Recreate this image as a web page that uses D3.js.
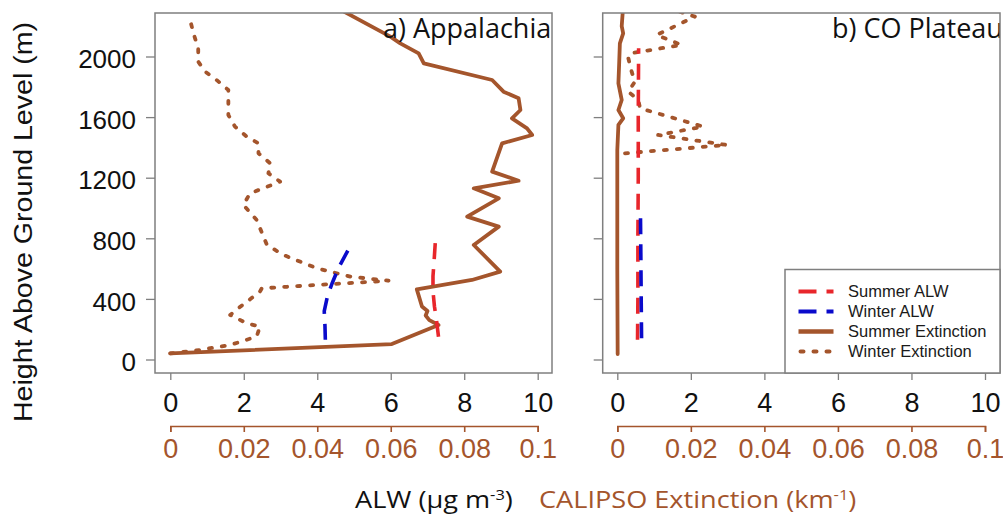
<!DOCTYPE html>
<html>
<head>
<meta charset="utf-8">
<script src="https://cdn.jsdelivr.net/npm/d3@7"></script>
<style>
  html, body { margin: 0; padding: 0; background: #fff; }
  svg { display: block; }
</style>
</head>
<body>
<svg id="chart" width="1003" height="514"></svg>
<script>
// ---- Data: vertical profiles (height above ground in m, value) ----
// ALW in µg m-3, CALIPSO extinction in km-1

const heightTicks = [0, 400, 800, 1200, 1600, 2000];
const alwTicks = [0, 2, 4, 6, 8, 10];
const extTicks = [0, 0.02, 0.04, 0.06, 0.08, 0.1];
const panelTitles = ["a) Appalachia", "b) CO Plateau"];
const seriesNames = ["Summer ALW", "Winter ALW", "Summer Extinction", "Winter Extinction"];

// a) Appalachia
const appSummerAlwH = [150, 250, 350, 450, 550, 650, 800];
const appSummerAlwV = [7.30, 7.25, 7.19, 7.15, 7.15, 7.18, 7.22];
const appWinterAlwH = [130, 220, 320, 420, 500, 600, 750];
const appWinterAlwV = [4.22, 4.21, 4.19, 4.28, 4.40, 4.57, 4.90];
const appSummerExtH = [40, 102, 228, 260, 290, 320, 350, 463, 525, 580, 756, 877, 943, 1064, 1130, 1180,
  1240, 1427, 1482, 1526, 1592, 1647, 1724, 1768, 1845, 1955, 2021, 2087, 2131, 2300];
const appSummerExtV = [0, 0.0603, 0.073, 0.0705, 0.0695, 0.0700, 0.0685, 0.0671, 0.0821, 0.0898, 0.0826, 0.0894,
  0.0808, 0.0894, 0.0826, 0.0948, 0.0876, 0.0903, 0.0985, 0.0971, 0.0930, 0.0953, 0.0948, 0.0907,
  0.0876, 0.0690, 0.0676, 0.0626, 0.0599, 0.0470];
const appWinterExtH = [40, 63, 96, 151, 217, 239, 294, 338, 448, 470, 520, 547, 602, 690, 756, 921, 1020,
  1097, 1174, 1229, 1295, 1361, 1427, 1471, 1537, 1614, 1702, 1779, 1845, 1900, 1966, 2054, 2153, 2241];
const appWinterExtV = [0, 0.0081, 0.0163, 0.0235, 0.0244, 0.0208, 0.0163, 0.0185, 0.0244, 0.0249, 0.0594,
  0.049, 0.0399, 0.0308, 0.0263, 0.0235, 0.0199, 0.0217, 0.0299, 0.0267, 0.0272, 0.024, 0.024, 0.0208,
  0.0176, 0.0158, 0.0158, 0.0158, 0.0126, 0.0095, 0.0076, 0.0076, 0.0063, 0.0054];

// b) CO Plateau
const coSummerAlwH = [130, 400, 800, 1200, 1600, 2054];
const coSummerAlwV = [0.55, 0.56, 0.56, 0.57, 0.57, 0.58];
const coWinterAlwH = [140, 400, 700, 965];
const coWinterAlwV = [0.66, 0.65, 0.64, 0.63];
const coSummerExtH = [36, 600, 1200, 1383, 1548, 1592, 1647, 1713, 1823, 1950, 2087, 2153, 2200, 2300];
const coSummerExtV = [0.0001, 0, 0, 0, 0.0003, 0.0016, 0.0003, 0.0012, 0.0003, 0.0005, 0.0007, 0.0016, 0.0012, 0.0015];
const coWinterExtH = [1361, 1416, 1482, 1537, 1658, 1713, 1768, 1834, 1900, 1988, 2021, 2076, 2142, 2263, 2300];
const coWinterExtV = [0.0021, 0.0298, 0.0111, 0.0234, 0.0062, 0.0057, 0.003, 0.0048, 0.0039, 0.003,
  0.0035, 0.0175, 0.0107, 0.0211, 0.0165];

// ---- Styling ----
const RED = "#e8262b", BLUE = "#0a0acb", BROWN = "#a4552c", GRAY = "#7f7f7f";
const ARIAL = "'Liberation Sans', Arial, sans-serif";
const TITLE_FONT = "'Open Sans', 'Noto Sans', sans-serif";

const svg = d3.select("#chart");
const plotTop = 13, plotBottom = 373;

const y = d3.scaleLinear().domain([0, 2000]).range([359.5, 56.5]);

const panels = [
  { left: 155, right: 552, r0: 170.3, r1: 537.7, title: panelTitles[0], titleX: 383,
    series: [
      { name: seriesNames[2], h: appSummerExtH, v: appSummerExtV, ext: true },
      { name: seriesNames[3], h: appWinterExtH, v: appWinterExtV, ext: true },
      { name: seriesNames[0], h: appSummerAlwH, v: appSummerAlwV, ext: false },
      { name: seriesNames[1], h: appWinterAlwH, v: appWinterAlwV, ext: false }
    ] },
  { left: 602.7, right: 1000, r0: 617.3, r1: 985, title: panelTitles[1], titleX: 832,
    series: [
      { name: seriesNames[2], h: coSummerExtH, v: coSummerExtV, ext: true },
      { name: seriesNames[3], h: coWinterExtH, v: coWinterExtV, ext: true },
      { name: seriesNames[0], h: coSummerAlwH, v: coSummerAlwV, ext: false },
      { name: seriesNames[1], h: coWinterAlwH, v: coWinterAlwV, ext: false }
    ] }
];

const styles = {
  "Summer ALW":        { color: RED,   width: 3.6, dash: "16 10", cap: "butt" },
  "Winter ALW":        { color: BLUE,  width: 3.6, dash: "16 10", cap: "butt" },
  "Summer Extinction": { color: BROWN, width: 3.8, dash: null,    cap: "round" },
  "Winter Extinction": { color: BROWN, width: 3.8, dash: "3 10",  cap: "round" }
};

panels.forEach((p, i) => {
  const x = d3.scaleLinear().domain([0, 10]).range([p.r0, p.r1]);
  const xe = d3.scaleLinear().domain([0, 0.1]).range([p.r0, p.r1]);

  const clipId = "clip" + i;
  svg.append("clipPath").attr("id", clipId)
    .append("rect").attr("x", p.left).attr("y", plotTop)
    .attr("width", p.right - p.left).attr("height", plotBottom - plotTop);

  const plot = svg.append("g").attr("clip-path", `url(#${clipId})`);

  // profiles
  p.series.forEach(s => {
    const st = styles[s.name];
    const pts = s.h.map((h, k) => ({ h, v: s.v[k] }));
    const sx = s.ext ? xe : x;
    const line = d3.line().x(d => sx(d.v)).y(d => y(d.h));
    plot.append("path").datum(pts)
      .attr("d", line)
      .attr("fill", "none")
      .attr("stroke", st.color)
      .attr("stroke-width", st.width)
      .attr("stroke-linejoin", "round")
      .attr("stroke-linecap", st.cap)
      .attr("stroke-dasharray", st.dash);
  });

  // panel title
  plot.append("text")
    .attr("x", p.titleX).attr("y", 38)
    .attr("font-family", TITLE_FONT).attr("font-size", 27)
    .attr("fill", "#111")
    .text(p.title);

  // y axis (labels on left panel only)
  const yAxis = d3.axisLeft(y).tickValues(heightTicks).tickSize(9).tickPadding(10)
    .tickFormat(i === 0 ? d3.format("d") : () => "");
  const gy = svg.append("g").attr("transform", `translate(${p.left},0)`).call(yAxis);
  gy.select(".domain").remove();
  gy.selectAll(".tick line").attr("stroke", GRAY).attr("stroke-width", 1.3);
  gy.selectAll(".tick text").attr("font-family", ARIAL).attr("font-size", 26)
    .attr("fill", "#111").attr("dy", "0.43em");

  // ALW axis
  const xAxis = d3.axisBottom(x).tickValues(alwTicks).tickSize(7).tickPadding(13)
    .tickFormat(d3.format("d"));
  const gx = svg.append("g").attr("transform", `translate(0,${plotBottom})`).call(xAxis);
  gx.select(".domain").remove();
  gx.selectAll(".tick line").attr("stroke", GRAY).attr("stroke-width", 1.3);
  gx.selectAll(".tick text").attr("font-family", ARIAL).attr("font-size", 27).attr("fill", "#111");

  // extinction axis
  const eAxis = d3.axisBottom(xe).tickValues(extTicks).tickSizeInner(6).tickSizeOuter(6).tickPadding(7)
    .tickFormat(d => d === 0 ? "0" : String(+d.toFixed(2)));
  const ge = svg.append("g").attr("transform", "translate(0,426)").call(eAxis);
  ge.select(".domain").attr("stroke", BROWN).attr("stroke-width", 1.6);
  ge.selectAll(".tick line").attr("stroke", BROWN).attr("stroke-width", 1.6);
  ge.selectAll(".tick text").attr("font-family", ARIAL).attr("font-size", 27).attr("fill", BROWN);

  // panel frame
  svg.append("rect")
    .attr("x", p.left).attr("y", plotTop)
    .attr("width", p.right - p.left).attr("height", plotBottom - plotTop)
    .attr("fill", "none").attr("stroke", GRAY).attr("stroke-width", 1.5);
});

// ---- Legend (CO Plateau panel) ----
const legend = svg.append("g");
legend.append("rect")
  .attr("x", 785).attr("y", 269.5).attr("width", 215).attr("height", plotBottom - 269.5)
  .attr("fill", "#fff").attr("stroke", GRAY).attr("stroke-width", 1.5);
const legendY = d3.scalePoint().domain(seriesNames).range([291.5, 351.5]);
const legendDash = { "Summer ALW": "18 10", "Winter ALW": "18 10", "Summer Extinction": null, "Winter Extinction": "3 10" };
seriesNames.forEach(n => {
  const st = styles[n];
  const yy = legendY(n);
  const dotted = n === "Winter Extinction";
  legend.append("line")
    .attr("x1", dotted ? 800.5 : 798.5).attr("x2", dotted ? 832 : 833.5)
    .attr("y1", yy).attr("y2", yy)
    .attr("stroke", st.color).attr("stroke-width", n === "Summer Extinction" ? 4.6 : 4)
    .attr("stroke-linecap", dotted ? "round" : "butt")
    .attr("stroke-dasharray", legendDash[n]);
  legend.append("text")
    .attr("x", 848).attr("y", yy).attr("dy", "0.36em")
    .attr("font-family", ARIAL).attr("font-size", 16.5).attr("fill", "#1a1a1a")
    .text(n);
});

// ---- Axis titles ----
svg.append("text")
  .attr("transform", "translate(32,222) rotate(-90)")
  .attr("text-anchor", "middle")
  .attr("font-family", ARIAL).attr("font-size", 26)
  .attr("textLength", 400).attr("lengthAdjust", "spacingAndGlyphs")
  .attr("fill", "#111")
  .text("Height Above Ground Level (m)");

const xTitle = svg.append("g").attr("transform", "translate(355,508) scale(1.18,1)");
const t1 = xTitle.append("text").attr("x", 0).attr("font-family", TITLE_FONT).attr("font-size", 23).attr("fill", "#111");
t1.append("tspan").text("ALW (μg m");
t1.append("tspan").attr("dy", -8).attr("font-size", 14).text("-3");
t1.append("tspan").attr("dy", 8).text(")");
const t2 = xTitle.append("text").attr("x", (539 - 355) / 1.18).attr("font-family", TITLE_FONT).attr("font-size", 23).attr("fill", BROWN);
t2.append("tspan").text("CALIPSO Extinction (km");
t2.append("tspan").attr("dy", -8).attr("font-size", 14).text("-1");
t2.append("tspan").attr("dy", 8).text(")");
</script>
</body>
</html>
